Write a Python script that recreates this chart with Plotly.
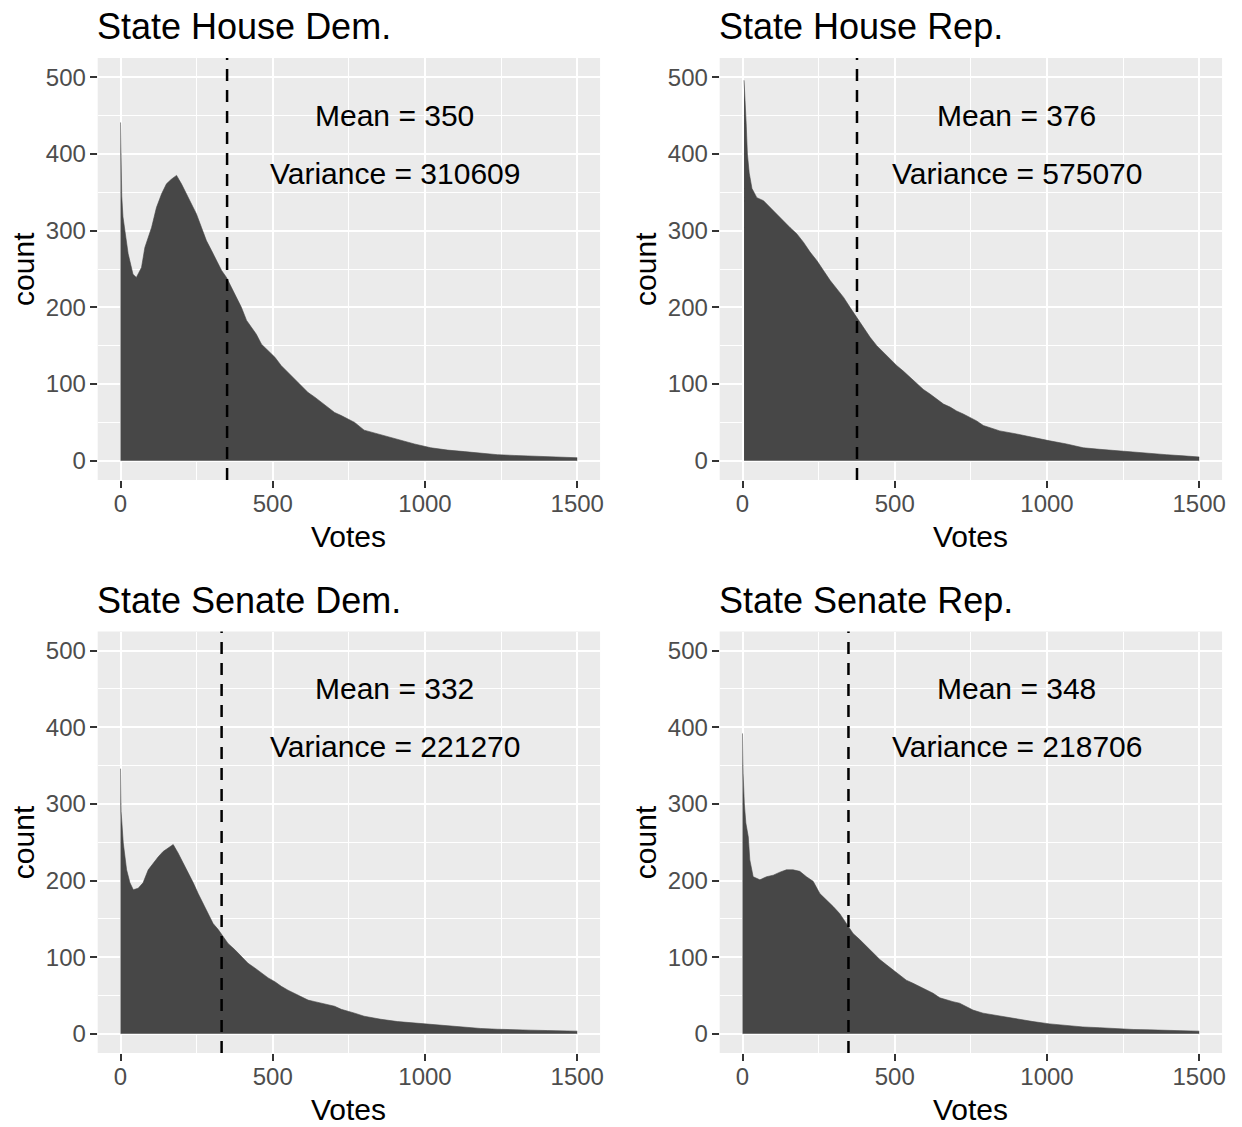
import plotly.graph_objects as go

# ---- per-vote counts (envelope of each histogram), vote value -> count ----
house_dem_votes = [0, 1, 4, 8, 14, 25, 41, 52, 69, 80, 102, 118, 135, 151, 167, 184, 200, 217, 233,
                   249, 266, 282, 299, 315, 332, 348, 364, 381, 397, 414, 430, 446, 463, 485, 507,
                   528, 550, 572, 594, 616, 638, 660, 682, 703, 725, 747, 769, 800, 855, 910, 965,
                   1019, 1074, 1129, 1183, 1238, 1293, 1347, 1402, 1460, 1500]
house_dem_count = [441, 390, 345, 318, 300, 270, 243, 239, 252, 278, 304, 330, 348, 361, 367, 372, 361,
                   348, 335, 322, 304, 287, 274, 261, 248, 239, 226, 213, 200, 183, 174, 165, 152, 143,
                   135, 124, 115, 107, 98, 89, 83, 76, 70, 63, 59, 54, 50, 40, 34, 27, 22, 17, 14, 12,
                   10, 8, 7, 6, 5, 4.5, 4]

house_rep_votes = [5, 9, 12, 16, 22, 31, 47, 69, 91, 113, 135, 156, 178, 200, 222, 244, 266, 288, 310,
                   332, 353, 375, 397, 419, 441, 463, 485, 507, 528, 550, 572, 594, 616, 638, 660, 682,
                   703, 725, 747, 769, 791, 845, 900, 955, 1009, 1064, 1119, 1173, 1228, 1283, 1337,
                   1392, 1447, 1500]
house_rep_count = [496, 470, 440, 400, 375, 355, 343, 339, 330, 322, 313, 304, 296, 285, 272, 261, 248,
                   235, 224, 213, 200, 187, 174, 161, 150, 141, 133, 124, 117, 109, 100, 93, 87, 80, 74,
                   70, 65, 61, 57, 52, 46, 39, 35, 30, 26, 22, 17, 15, 13, 11, 10, 8, 6.5, 5]

senate_dem_votes = [0, 2, 9, 20, 31, 42, 58, 74, 91, 107, 124, 140, 156, 173, 189, 206, 222, 239, 255,
                    271, 288, 304, 321, 337, 353, 375, 397, 419, 441, 463, 485, 507, 528, 550, 572, 594,
                    616, 638, 660, 682, 703, 725, 747, 769, 800, 855, 910, 965, 1019, 1074, 1129, 1183,
                    1238, 1293, 1347, 1402, 1500]
senate_dem_count = [346, 290, 249, 214, 197, 188, 190, 197, 214, 223, 231, 238, 242, 247, 236, 223, 210,
                    197, 183, 170, 157, 144, 136, 127, 118, 110, 101, 92, 86, 79, 73, 68, 62, 57, 53, 49,
                    44, 42, 40, 38, 36, 32, 29, 27, 23, 19, 16, 14, 12, 10, 8, 7, 6, 5, 4.8, 4.3, 3.5]

senate_rep_votes = [0, 2, 6, 11, 19, 24, 35, 57, 79, 101, 123, 144, 166, 188, 210, 232, 254, 276, 298,
                    319, 341, 363, 385, 407, 429, 451, 473, 495, 516, 538, 560, 582, 604, 626, 648, 670,
                    691, 713, 735, 757, 790, 845, 899, 954, 1009, 1064, 1118, 1173, 1228, 1283, 1337,
                    1392, 1500]
senate_rep_count = [392, 340, 300, 275, 257, 227, 205, 201, 205, 207, 211, 214, 214, 212, 205, 199, 183,
                    175, 166, 157, 144, 131, 123, 114, 105, 97, 90, 83, 77, 70, 66, 62, 57, 53, 47, 44,
                    42, 40, 35, 31, 27, 23, 19, 16, 13, 11, 9, 8, 6.5, 5.7, 5.2, 4.3, 3.5]

panel_titles = ["State House Dem.", "State House Rep.", "State Senate Dem.", "State Senate Rep."]
panel_means = [350, 376, 332, 348]
panel_variances = [310609, 575070, 221270, 218706]

x_ticks = [0, 500, 1000, 1500]
x_minor = [250, 750, 1250]
y_ticks = [0, 100, 200, 300, 400, 500]
y_minor = [50, 150, 250, 350, 450]

# ---- page geometry ----
W, H = 1242, 1127
col_px = [(98, 602), (722, 1226)]
row_px = [(58, 480), (631.5, 1053)]

FONT = "Liberation Sans, Arial, Helvetica, sans-serif"
BAR = "#474747"

series = [
    (house_dem_votes, house_dem_count),
    (house_rep_votes, house_rep_count),
    (senate_dem_votes, senate_dem_count),
    (senate_rep_votes, senate_rep_count),
]

fig = go.Figure()
layout = dict(
    width=W, height=H,
    margin=dict(l=0, r=0, t=0, b=0),
    paper_bgcolor="white",
    plot_bgcolor="#EBEBEB",
    showlegend=False,
    font=dict(family=FONT, color="black"),
)
annotations = []
shapes = []

for i, ((xv, yv), title, mean, var) in enumerate(zip(series, panel_titles, panel_means, panel_variances)):
    r, c = divmod(i, 2)
    n = "" if i == 0 else str(i + 1)
    xa, ya = "x" + n, "y" + n
    x0, x1 = col_px[c]
    y0, y1 = row_px[r]
    xdom = [x0 / W, x1 / W]
    ydom = [1 - y1 / H, 1 - y0 / H]

    fig.add_trace(go.Scatter(
        x=xv, y=yv, xaxis=xa, yaxis=ya, mode="lines",
        line=dict(color=BAR, width=0.6), fill="tozeroy", fillcolor=BAR,
        hoverinfo="skip",
    ))

    layout["xaxis" + n] = dict(
        domain=xdom, anchor=ya, range=[-75, 1575],
        tickmode="array", tickvals=x_ticks, ticktext=[str(t) for t in x_ticks],
        showgrid=True, gridcolor="white", gridwidth=2.2,
        minor=dict(tickvals=x_minor, showgrid=True, gridcolor="white", gridwidth=1.1),
        ticks="outside", ticklen=7, tickwidth=2, tickcolor="#333333",
        tickfont=dict(size=24, color="#4D4D4D", family=FONT),
        ticklabelstandoff=-5,
        zeroline=False, showline=False, fixedrange=True,
    )
    layout["yaxis" + n] = dict(
        domain=ydom, anchor=xa, range=[-25, 525],
        tickmode="array", tickvals=y_ticks, ticktext=[str(t) for t in y_ticks],
        showgrid=True, gridcolor="white", gridwidth=2.2,
        minor=dict(tickvals=y_minor, showgrid=True, gridcolor="white", gridwidth=1.1),
        ticks="outside", ticklen=7, tickwidth=2, tickcolor="#333333",
        tickfont=dict(size=24, color="#4D4D4D", family=FONT),
        ticklabelstandoff=-1,
        zeroline=False, showline=False, fixedrange=True,
    )

    # dashed mean line
    shapes.append(dict(
        type="line", xref=xa, yref=ya + " domain", x0=mean, x1=mean, y0=0, y1=1,
        line=dict(color="black", width=2.5, dash="12px,9px"), layer="above",
    ))

    # stats text
    annotations.append(dict(
        xref=xa, yref=ya, x=900, y=450, text=f"Mean = {mean}", showarrow=False,
        font=dict(size=30, color="black", family=FONT), xanchor="center", yanchor="middle",
    ))
    annotations.append(dict(
        xref=xa, yref=ya, x=900, y=375, text=f"Variance = {var}", showarrow=False,
        font=dict(size=30, color="black", family=FONT), xanchor="center", yanchor="middle",
    ))

    # panel title
    annotations.append(dict(
        xref="paper", yref="paper", x=(x0 - 3) / W, y=1 - (y0 - 31) / H, text=title,
        showarrow=False, font=dict(size=36, color="black", family=FONT),
        xanchor="left", yanchor="middle",
    ))
    # axis titles
    annotations.append(dict(
        xref="paper", yref="paper", x=((x0 + x1) / 2) / W, y=1 - (y1 + 56) / H, text="Votes",
        showarrow=False, font=dict(size=30, color="black", family=FONT),
        xanchor="center", yanchor="middle",
    ))
    annotations.append(dict(
        xref="paper", yref="paper", x=(x0 - 75) / W, y=1 - ((y0 + y1) / 2) / H, text="count",
        showarrow=False, textangle=-90, font=dict(size=30, color="black", family=FONT),
        xanchor="center", yanchor="middle",
    ))

layout["annotations"] = annotations
layout["shapes"] = shapes
fig.update_layout(**layout)

fig.write_html("out.html")
